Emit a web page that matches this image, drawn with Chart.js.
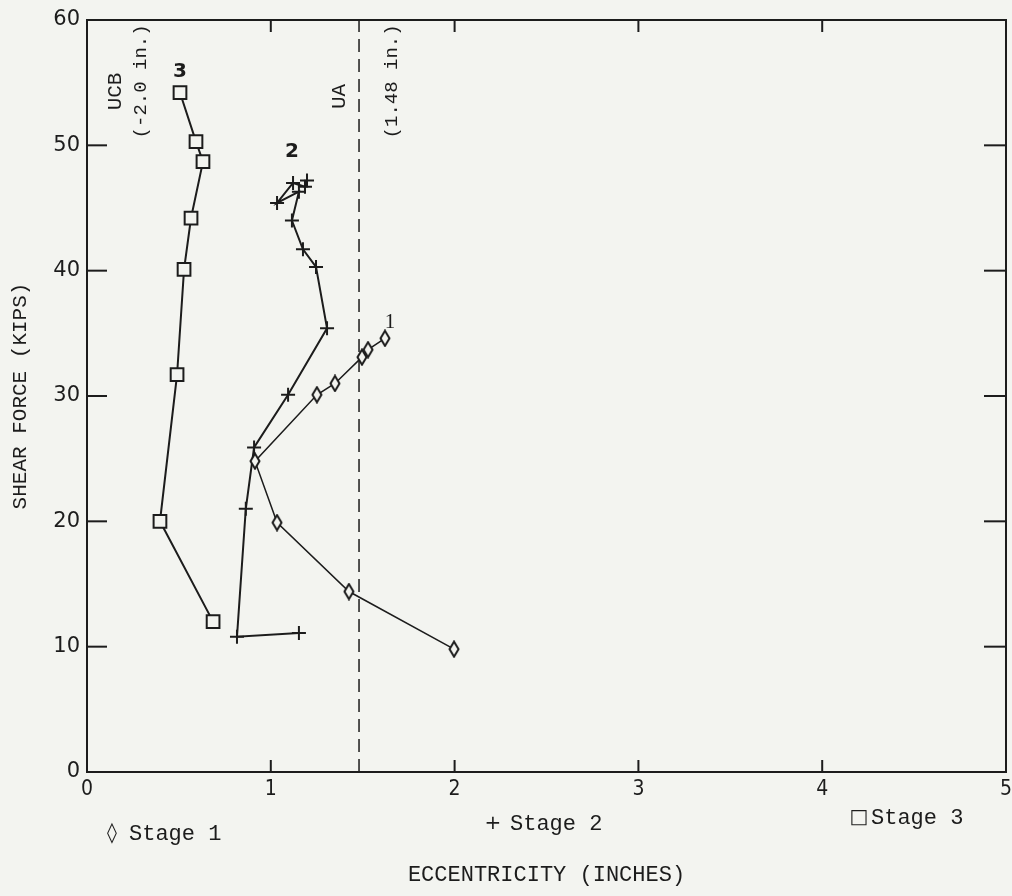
<!DOCTYPE html>
<html>
<head>
<meta charset="utf-8">
<script src="https://cdn.jsdelivr.net/npm/chart.js@4.4.1/dist/chart.umd.min.js"></script>
<style>
  html, body { margin: 0; padding: 0; background: #f3f4f0; }
  #wrap { width: 1012px; height: 896px; }
</style>
</head>
<body>
<div id="wrap"><canvas id="shearChart" width="1012" height="896"></canvas></div>
<script>
// --- data: eccentricity (in.) vs shear force (kips) ---
const stageLabels = ['Stage 1', 'Stage 2', 'Stage 3'];

const stage1Ecc   = [1.997, 1.425, 1.034, 0.914, 1.251, 1.349, 1.496, 1.529, 1.621];
const stage1Shear = [9.8, 14.4, 19.9, 24.8, 30.1, 31.0, 33.1, 33.7, 34.6];

const stage2Ecc   = [1.153, 0.816, 0.864, 0.909, 1.094, 1.306, 1.246, 1.175, 1.115, 1.153, 1.034, 1.121, 1.186, 1.197];
const stage2Shear = [11.1, 10.8, 21.0, 25.9, 30.1, 35.4, 40.3, 41.7, 44.0, 46.3, 45.4, 47.0, 46.7, 47.2];

const stage3Ecc   = [0.686, 0.397, 0.490, 0.528, 0.566, 0.631, 0.593, 0.506];
const stage3Shear = [12.0, 20.0, 31.7, 40.1, 44.2, 48.7, 50.3, 54.2];

// UA limit line
const uaLimit = 1.48;

const xTicks = [0, 1, 2, 3, 4, 5];
const yTicks = [0, 10, 20, 30, 40, 50, 60];

const INK = '#1c1c1c';
const PAPER = '#f3f4f0';
const MONO = "'Liberation Mono', 'DejaVu Sans Mono', monospace";

const pts = (xs, ys) => xs.map((v, i) => ({ x: v, y: ys[i] }));

// tall open diamond used for stage 1
function diamondMark(w, h) {
  const c = document.createElement('canvas');
  c.width = w + 3; c.height = h + 3;
  const g = c.getContext('2d');
  g.strokeStyle = INK; g.lineWidth = 2; g.fillStyle = PAPER;
  g.beginPath();
  g.moveTo(c.width / 2, 1.5);
  g.lineTo(c.width - 1.5, c.height / 2);
  g.lineTo(c.width / 2, c.height - 1.5);
  g.lineTo(1.5, c.height / 2);
  g.closePath();
  g.fill(); g.stroke();
  return c;
}

// frame with inward ticks, curve numbers, side notes and the legend row
const frameAndNotes = {
  id: 'frameAndNotes',
  beforeDraw(chart) {
    const ctx = chart.ctx;
    ctx.save();
    ctx.fillStyle = PAPER;
    ctx.fillRect(0, 0, chart.width, chart.height);
    ctx.restore();
  },
  afterDraw(chart) {
    const { ctx, chartArea: a, scales: { x, y } } = chart;
    ctx.save();
    ctx.strokeStyle = INK;
    ctx.lineWidth = 2;
    ctx.strokeRect(a.left, a.top, a.right - a.left, a.bottom - a.top);

    const seg = (x1, y1, x2, y2) => { ctx.beginPath(); ctx.moveTo(x1, y1); ctx.lineTo(x2, y2); ctx.stroke(); };
    yTicks.slice(1, -1).forEach(v => {
      const py = y.getPixelForValue(v);
      seg(a.left, py, a.left + 20, py);
      seg(a.right - 22, py, a.right, py);
    });
    xTicks.slice(1, -1).forEach(v => {
      const px = x.getPixelForValue(v);
      seg(px, a.bottom, px, a.bottom - 12);
      seg(px, a.top, px, a.top + 12);
    });

    ctx.fillStyle = INK;
    ctx.textAlign = 'center';
    ctx.textBaseline = 'middle';

    // curve numbers
    [
      { t: '1', ex: 1.649, sh: 35.9, f: "21px 'Liberation Serif', serif" },
      { t: '2', ex: 1.115, sh: 49.5, f: "bold 20px 'DejaVu Sans', sans-serif" },
      { t: '3', ex: 0.506, sh: 55.9, f: "bold 20px 'DejaVu Sans', sans-serif" }
    ].forEach(n => {
      ctx.font = n.f;
      ctx.fillText(n.t, x.getPixelForValue(n.ex), y.getPixelForValue(n.sh));
    });

    // vertical notes beside the limits
    [
      { t: 'UCB', ex: 0.152, sh: 54.3, f: '21px ' + MONO },
      { t: '(-2.0 in.)', ex: 0.294, sh: 55.1, f: '19px ' + MONO },
      { t: 'UA', ex: 1.376, sh: 53.9, f: '21px ' + MONO },
      { t: '(1.48 in.)', ex: 1.659, sh: 55.1, f: '19px ' + MONO }
    ].forEach(n => {
      ctx.save();
      ctx.translate(x.getPixelForValue(n.ex), y.getPixelForValue(n.sh));
      ctx.rotate(-Math.PI / 2);
      ctx.font = n.f;
      ctx.fillText(n.t, 0, 0);
      ctx.restore();
    });

    // legend row under the x axis
    const marks = ['\u25CA', '+', '\u25A1'];
    const spots = [[112, 129, 834], [493, 510, 824], [859, 871, 818]];
    stageLabels.forEach((lab, i) => {
      const [mx, tx, ty] = spots[i];
      ctx.textAlign = 'center';
      ctx.font = "20px 'DejaVu Sans', sans-serif";
      ctx.fillText(marks[i], mx, ty);
      ctx.textAlign = 'left';
      ctx.font = '22px ' + MONO;
      ctx.fillText(lab, tx, ty);
    });
    ctx.restore();
  }
};

new Chart(document.getElementById('shearChart'), {
  type: 'scatter',
  data: {
    datasets: [
      {
        label: stageLabels[0],
        data: pts(stage1Ecc, stage1Shear),
        showLine: true,
        borderColor: INK,
        borderWidth: 1.5,
        pointStyle: diamondMark(9, 15),
        pointRadius: 7
      },
      {
        label: stageLabels[1],
        data: pts(stage2Ecc, stage2Shear),
        showLine: true,
        borderColor: INK,
        borderWidth: 2,
        pointStyle: 'cross',
        pointRadius: 7,
        pointBorderWidth: 2
      },
      {
        label: stageLabels[2],
        data: pts(stage3Ecc, stage3Shear),
        showLine: true,
        borderColor: INK,
        borderWidth: 2,
        pointStyle: 'rect',
        pointRadius: 9,
        pointBorderWidth: 2,
        pointBackgroundColor: PAPER
      },
      {
        label: 'UA',
        data: [{ x: uaLimit, y: yTicks[0] }, { x: uaLimit, y: yTicks[yTicks.length - 1] }],
        showLine: true,
        borderColor: INK,
        borderWidth: 1.5,
        borderDash: [13, 7],
        pointRadius: 0
      }
    ]
  },
  options: {
    responsive: false,
    animation: false,
    layout: { autoPadding: false, padding: { left: 0, right: 6, top: 20, bottom: 0 } },
    plugins: {
      legend: { display: false },
      tooltip: { enabled: false }
    },
    scales: {
      x: {
        type: 'linear',
        min: 0,
        max: 5,
        afterBuildTicks: s => { s.ticks = xTicks.map(v => ({ value: v })); },
        afterFit: s => { s.height = 124; s.paddingLeft = 0; s.paddingRight = 0; },
        grid: { display: false, drawTicks: false },
        border: { display: false },
        ticks: {
          padding: 5,
          color: INK,
          font: { family: "'Liberation Sans Narrow', 'DejaVu Sans Condensed', sans-serif", size: 21 }
        },
        title: {
          display: true,
          text: 'ECCENTRICITY (INCHES)',
          color: INK,
          font: { family: MONO, size: 22 },
          padding: { top: 0, bottom: 8 }
        }
      },
      y: {
        type: 'linear',
        min: 0,
        max: 60,
        afterBuildTicks: s => { s.ticks = yTicks.map(v => ({ value: v })); },
        afterFit: s => { s.width = 87; s.paddingTop = 0; s.paddingBottom = 0; },
        grid: { display: false, drawTicks: false },
        border: { display: false },
        ticks: {
          padding: 7,
          color: INK,
          font: { family: "'DejaVu Sans', sans-serif", size: 21 }
        },
        title: {
          display: true,
          text: 'SHEAR FORCE (KIPS)',
          color: INK,
          font: { family: MONO, size: 21 },
          padding: { top: 8, bottom: 0 }
        }
      }
    }
  },
  plugins: [frameAndNotes]
});
</script>
</body>
</html>
